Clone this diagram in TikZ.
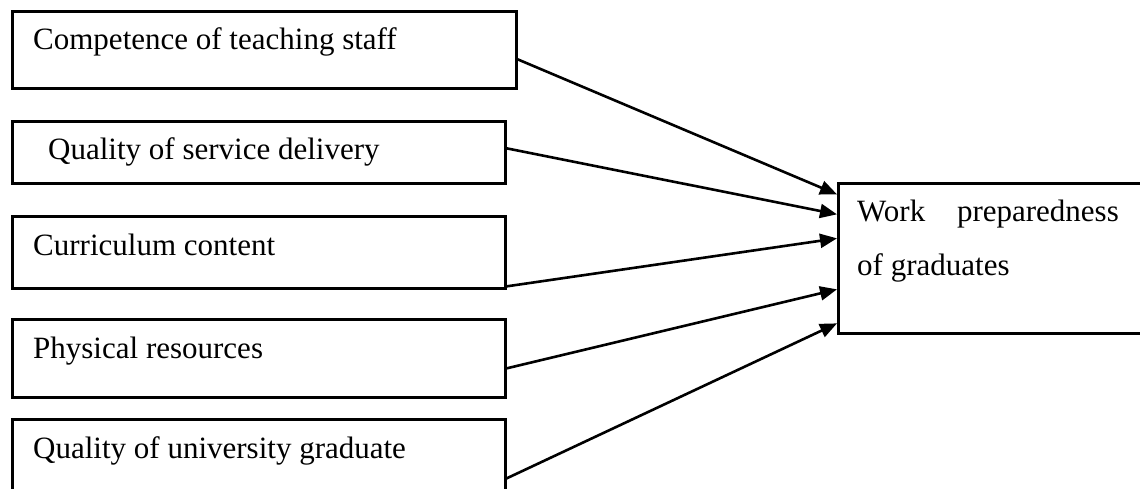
\documentclass[tikz,border=0pt]{standalone}
\usepackage{fontspec}
\setmainfont{Liberation Serif}
\usetikzlibrary{arrows.meta}
\begin{document}
\begin{tikzpicture}[x=1pt, y=-1pt,
  box/.style={draw, line width=2.7pt, inner sep=0pt, anchor=north west},
  lbl/.style={inner sep=0pt, anchor=base west, font=\fontsize{31}{53}\selectfont},
  conn/.style={draw, line width=2.6pt, -{Triangle[length=17pt, width=14pt]}}]
  \useasboundingbox (0,0) rectangle (1140,489);
  \clip (0,0) rectangle (1140,489);
  \fill[white] (0,0) rectangle (1140,489);

  % factor boxes on the left
  \node[box, minimum width=504pt, minimum height=77pt] (b1) at (11,10) {};
  \node[box, minimum width=493pt, minimum height=62pt] (b2) at (11,120) {};
  \node[box, minimum width=493pt, minimum height=72pt] (b3) at (11,215) {};
  \node[box, minimum width=493pt, minimum height=78pt] (b4) at (11,318) {};
  \node[box, minimum width=493pt, minimum height=102pt] (b5) at (11,418) {};

  % outcome box on the right
  \node[box, minimum width=340pt, minimum height=150pt] (r) at (837,182) {};

  % labels
  \node[lbl] (t1) at (33,50) {Competence of teaching staff};
  \node[lbl] (t2) at (48,160) {Quality of service delivery};
  \node[lbl] (t3) at (33,255) {Curriculum content};
  \node[lbl] (t4) at (33,358) {Physical resources};
  \node[lbl] (t5) at (33,458) {Quality of university graduate};
  \node[lbl] (r1) at (857,222) {Work};
  \node[lbl, anchor=base east] (r2) at (1119,222) {preparedness};
  \node[lbl] (r3) at (857,275) {of graduates};

  % connectors
  \draw[conn] ([yshift=-9.5pt]b1.east) -- ([yshift=64pt]r.west);
  \draw[conn] ([yshift=4pt]b2.east) -- ([yshift=44pt]r.west);
  \draw[conn] ([yshift=-34pt]b3.east) -- ([yshift=20pt]r.west);
  \draw[conn] ([yshift=-10pt]b4.east) -- ([yshift=-31pt]r.west);
  \draw[conn] ([yshift=-8pt]b5.east) -- ([yshift=-65pt]r.west);
\end{tikzpicture}
\end{document}
